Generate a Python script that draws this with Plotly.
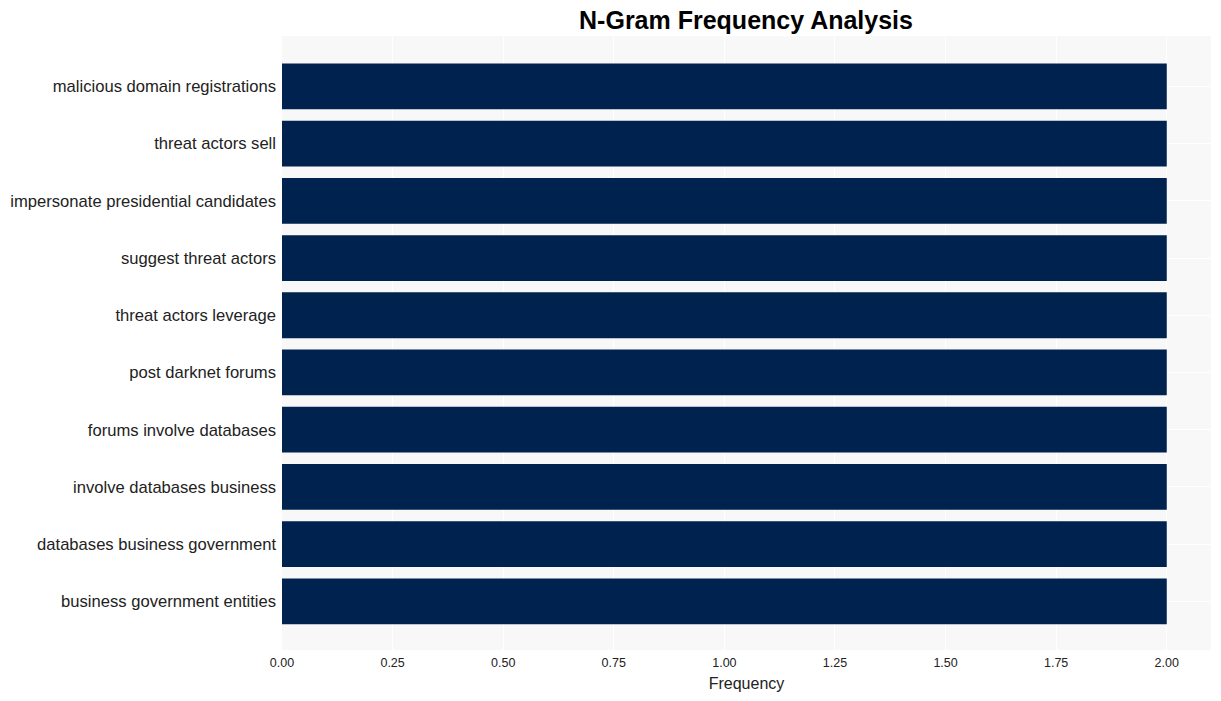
import plotly.graph_objects as go

ngrams = [
    "malicious domain registrations",
    "threat actors sell",
    "impersonate presidential candidates",
    "suggest threat actors",
    "threat actors leverage",
    "post darknet forums",
    "forums involve databases",
    "involve databases business",
    "databases business government",
    "business government entities",
]
frequency = [2, 2, 2, 2, 2, 2, 2, 2, 2, 2]
x_ticks = [0, 0.25, 0.5, 0.75, 1.0, 1.25, 1.5, 1.75, 2.0]
x_tick_labels = ["0.00", "0.25", "0.50", "0.75", "1.00", "1.25", "1.50", "1.75", "2.00"]

fig = go.Figure(
    go.Bar(
        x=frequency,
        y=ngrams,
        orientation="h",
        marker=dict(color="#00224e", line=dict(width=0)),
        width=0.8,
    )
)

fig.update_layout(
    width=1221,
    height=701,
    margin=dict(l=282, r=10, t=36, b=51, autoexpand=False),
    paper_bgcolor="white",
    plot_bgcolor="#f8f8f8",
    font=dict(family="Liberation Sans, Arial, sans-serif", color="#222222"),
    title=dict(
        text="<b>N-Gram Frequency Analysis</b>",
        x=0.611,
        xanchor="center",
        y=0.9715,
        yanchor="middle",
        font=dict(size=25, color="black"),
    ),
    showlegend=False,
)

fig.update_xaxes(
    range=[0, 2.1],
    tickvals=x_ticks,
    ticktext=x_tick_labels,
    tickfont=dict(size=12.5),
    showgrid=True,
    gridcolor="white",
    gridwidth=1,
    zeroline=False,
    ticklabelstandoff=3,
    title=dict(text="Frequency", font=dict(size=16), standoff=9),
    ticks="",
    automargin=False,
)

fig.update_yaxes(
    categoryorder="array",
    categoryarray=list(reversed(ngrams)),
    range=[-0.85, 9.88],
    tickfont=dict(size=16.6),
    showgrid=True,
    gridcolor="white",
    gridwidth=1,
    zeroline=False,
    ticks="",
    ticklabelstandoff=5,
    automargin=False,
)

fig.write_html(
    "out.html",
    config={"displayModeBar": False},
    post_script="document.body.style.margin='0';",
)
